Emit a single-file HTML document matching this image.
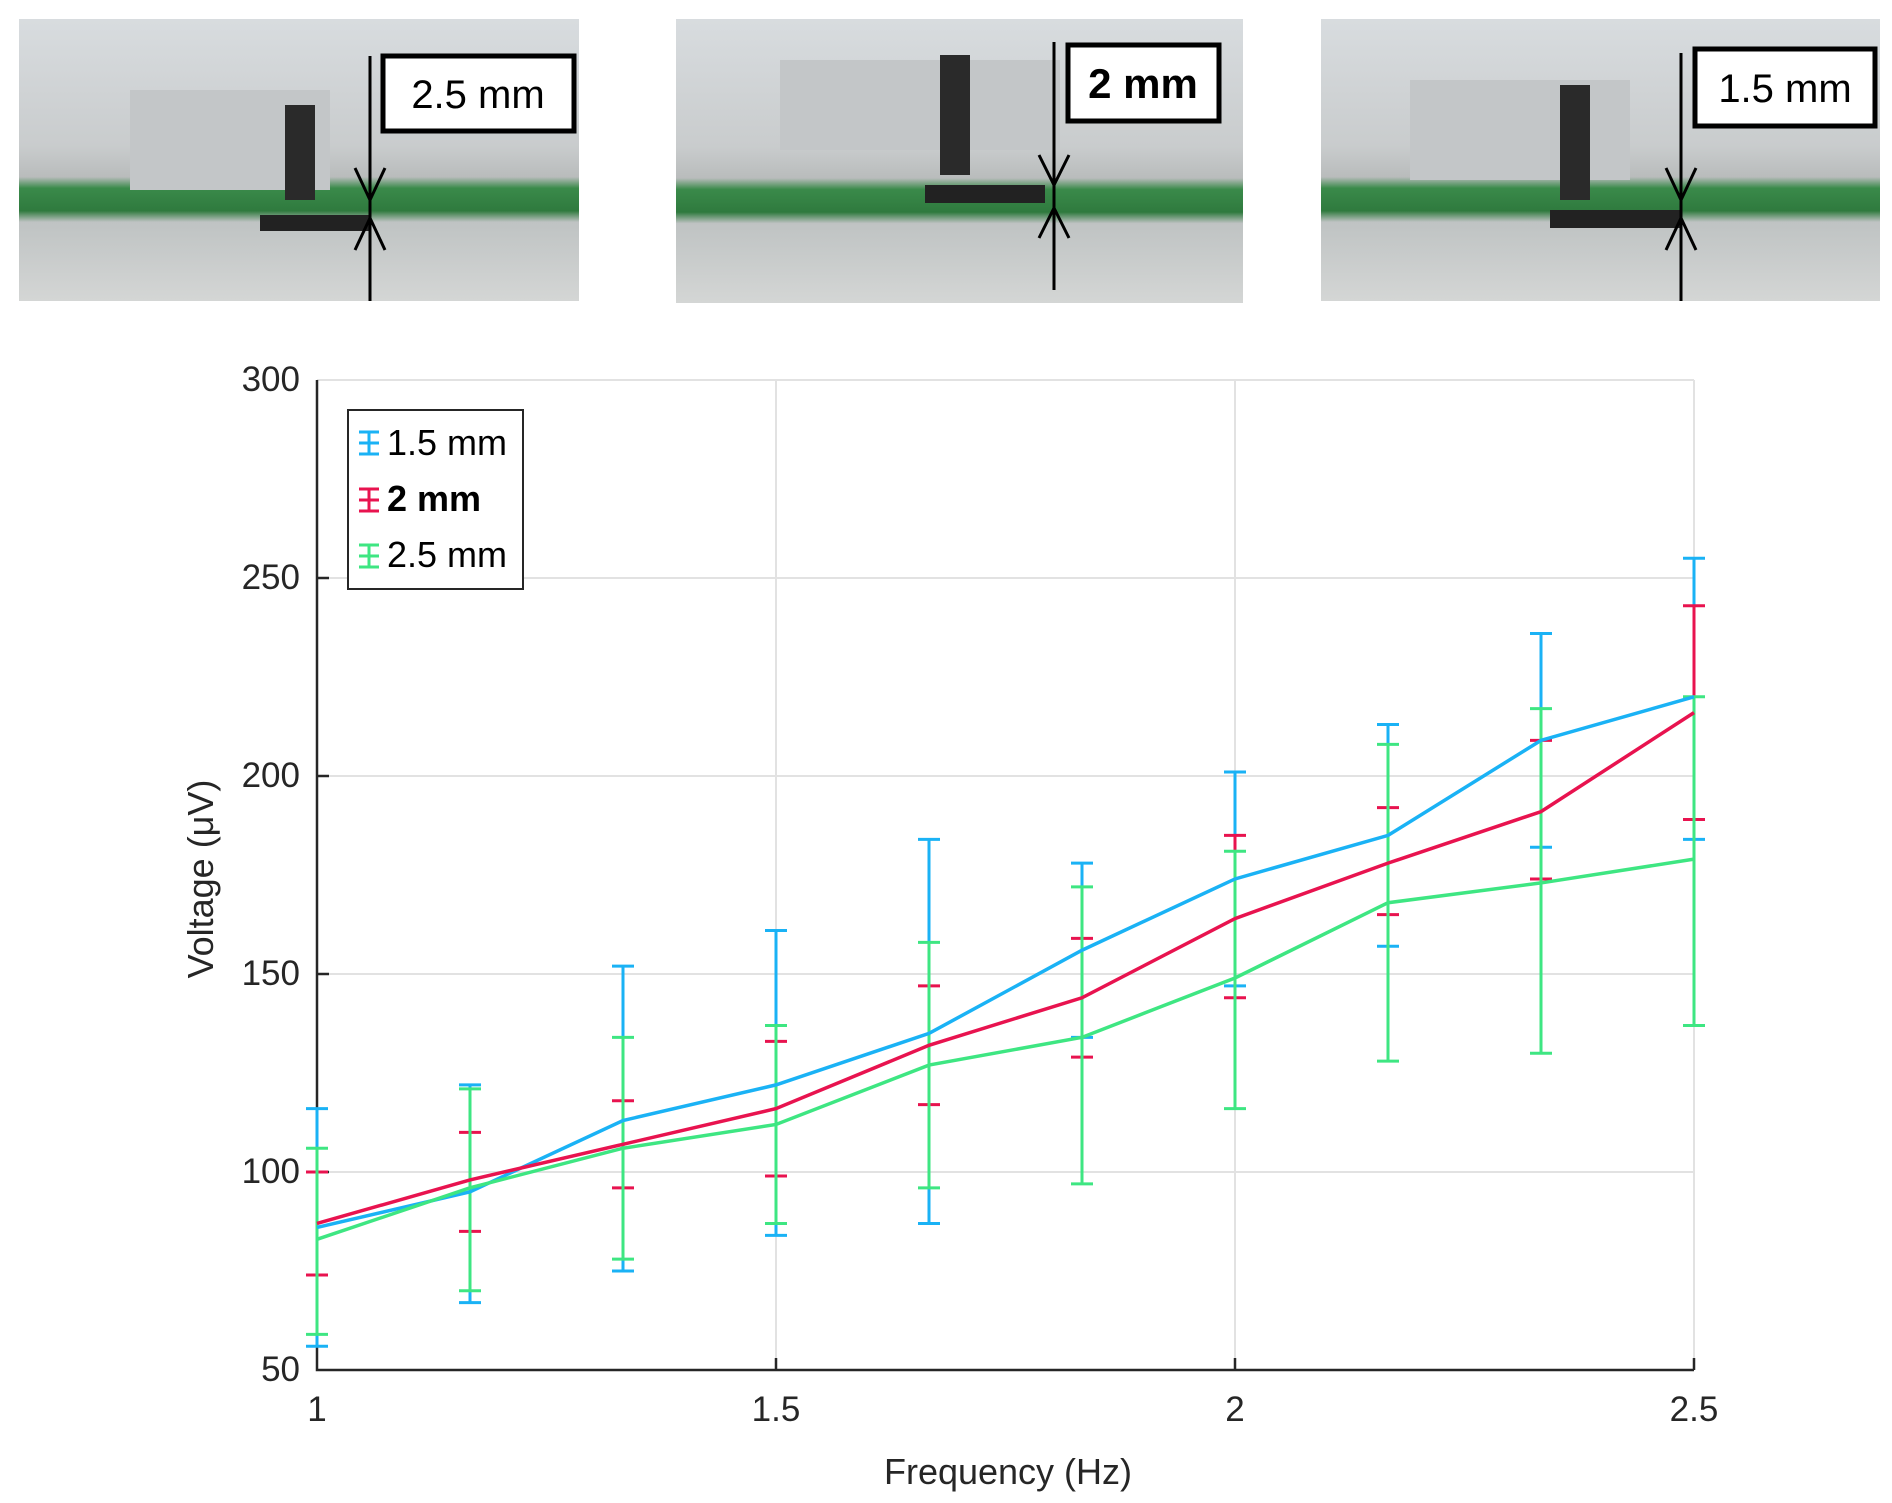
<!DOCTYPE html>
<html><head><meta charset="utf-8"><style>
html,body{margin:0;padding:0;background:#fff}
svg{display:block}
text{font-family:"Liberation Sans",sans-serif;fill:#262626}
</style></head><body>
<svg width="1892" height="1503" viewBox="0 0 1892 1503" xmlns="http://www.w3.org/2000/svg">
<defs>
<linearGradient id="ph" x1="0" y1="0" x2="0" y2="1">
<stop offset="0" stop-color="#d8dcdf"/><stop offset="0.45" stop-color="#c9cccd"/>
<stop offset="0.56" stop-color="#b9bcbc"/><stop offset="0.6" stop-color="#3a8a4a"/>
<stop offset="0.68" stop-color="#2f7a3e"/><stop offset="0.72" stop-color="#bfc3c3"/>
<stop offset="1" stop-color="#d4d6d5"/></linearGradient>
</defs>
<g>
<rect x="19" y="19" width="560" height="282" fill="url(#ph)"/>
<rect x="130" y="90" width="200" height="100" fill="#c3c6c8"/>
<rect x="285" y="105" width="30" height="95" fill="#2a2a2a"/>
<rect x="260" y="215" width="110" height="16" fill="#222"/>
<rect x="383" y="56" width="191" height="75" fill="#fff" stroke="#000" stroke-width="5"/>
<text x="478" y="108" font-size="40" text-anchor="middle" style="fill:#000">2.5 mm</text>
<line x1="370" y1="56" x2="370" y2="301" stroke="#000" stroke-width="3"/>
<path d="M355 168 L370 200 L385 168 M355 250 L370 218 L385 250" stroke="#000" stroke-width="3" fill="none"/>
</g>
<g>
<rect x="676" y="19" width="567" height="284" fill="url(#ph)"/>
<rect x="780" y="60" width="280" height="90" fill="#c3c6c8"/>
<rect x="940" y="55" width="30" height="120" fill="#2a2a2a"/>
<rect x="925" y="185" width="120" height="18" fill="#222"/>
<rect x="1068" y="45" width="151" height="76" fill="#fff" stroke="#000" stroke-width="5"/>
<text x="1143" y="98" font-size="42" font-weight="bold" text-anchor="middle" style="fill:#000">2 mm</text>
<line x1="1054" y1="42" x2="1054" y2="290" stroke="#000" stroke-width="3"/>
<path d="M1039 155 L1054 185 L1069 155 M1039 238 L1054 208 L1069 238" stroke="#000" stroke-width="3" fill="none"/>
</g>
<g>
<rect x="1321" y="19" width="559" height="282" fill="url(#ph)"/>
<rect x="1410" y="80" width="220" height="100" fill="#c3c6c8"/>
<rect x="1560" y="85" width="30" height="115" fill="#2a2a2a"/>
<rect x="1550" y="210" width="130" height="18" fill="#222"/>
<rect x="1695" y="49" width="180" height="77" fill="#fff" stroke="#000" stroke-width="5"/>
<text x="1785" y="102" font-size="40" text-anchor="middle" style="fill:#000">1.5 mm</text>
<line x1="1681" y1="53" x2="1681" y2="301" stroke="#000" stroke-width="3"/>
<path d="M1666 168 L1681 200 L1696 168 M1666 250 L1681 218 L1696 250" stroke="#000" stroke-width="3" fill="none"/>
</g>
<g stroke="#e2e2e2" stroke-width="2">
<line x1="317" y1="578" x2="1694" y2="578"/>
<line x1="317" y1="776" x2="1694" y2="776"/>
<line x1="317" y1="974" x2="1694" y2="974"/>
<line x1="317" y1="1172" x2="1694" y2="1172"/>
<line x1="317" y1="380" x2="1694" y2="380"/>
<line x1="776" y1="380" x2="776" y2="1370"/>
<line x1="1235" y1="380" x2="1235" y2="1370"/>
<line x1="1694" y1="380" x2="1694" y2="1370"/>
</g>
<g stroke="#262626" stroke-width="2.5" fill="none">
<path d="M317 380 V1370 H1694"/>
<path d="M776 1370 v-12 M1235 1370 v-12 M1694 1370 v-12 M317 578 h12 M317 776 h12 M317 974 h12 M317 1172 h12"/>
</g>
<g font-size="35" text-anchor="end">
<text x="300" y="391">300</text><text x="300" y="589">250</text><text x="300" y="787">200</text>
<text x="300" y="985">150</text><text x="300" y="1183">100</text><text x="300" y="1381">50</text>
</g>
<g font-size="35" text-anchor="middle">
<text x="317" y="1421">1</text><text x="776" y="1421">1.5</text><text x="1235" y="1421">2</text><text x="1694" y="1421">2.5</text>
</g>
<text x="1008" y="1484" font-size="36" text-anchor="middle">Frequency (Hz)</text>
<text transform="translate(213,879) rotate(-90)" font-size="36" text-anchor="middle">Voltage (μV)</text>
<g id="series"></g>
<rect x="348" y="410" width="175" height="179" fill="#fff" stroke="#262626" stroke-width="2"/>
<g stroke-width="3" fill="none">
<path d="M359 432h20M359 454h20M369 432v22M359 443h20" stroke="#1ab2f5"/>
<path d="M359 489h20M359 511h20M369 489v22M359 500h20" stroke="#e8134f"/>
<path d="M359 545h20M359 567h20M369 545v22M359 556h20" stroke="#3ee682"/>
</g>
<text x="387" y="455" font-size="36" style="fill:#000">1.5 mm</text>
<text x="387" y="511" font-size="36" font-weight="bold" style="fill:#000">2 mm</text>
<text x="387" y="567" font-size="36" style="fill:#000">2.5 mm</text>
</svg>
<script>
var X0=317,X1=1694,Y0=1370,Y1=380;
function px(f){return X0+(f-1)/1.5*(X1-X0)}
function py(v){return Y0-(v-50)/250*(Y0-Y1)}
var fs=[1,7/6,4/3,1.5,5/3,11/6,2,13/6,7/3,2.5];
var S=[
{c:"#3ee682",m:[83,96,106,112,127,134,149,168,173,179],u:[106,121,134,137,158,172,181,208,217,220],l:[59,70,78,87,96,97,116,128,130,137]},
{c:"#e8134f",m:[87,98,107,116,132,144,164,178,191,216],u:[100,110,118,133,147,159,185,192,209,243],l:[74,85,96,99,117,129,144,165,174,189]},
{c:"#1ab2f5",m:[86,95,113,122,135,156,174,185,209,220],u:[116,122,152,161,184,178,201,213,236,255],l:[56,67,75,84,87,134,147,157,182,184]}
];
var g=document.getElementById('series'),h='';
var order=[2,1,0];
order.forEach(function(i){var s=S[i];
 for(var k=0;k<10;k++){var x=px(fs[k]);
  h+='<path d="M'+x+' '+py(s.u[k])+'V'+py(s.l[k])+'M'+(x-11)+' '+py(s.u[k])+'h22M'+(x-11)+' '+py(s.l[k])+'h22" stroke="'+s.c+'" stroke-width="3" fill="none"/>';}
});
order.forEach(function(i){var s=S[i];
 var d='M'+s.m.map(function(v,k){return px(fs[k])+' '+py(v)}).join(' L');
 h+='<path d="'+d+'" stroke="'+s.c+'" stroke-width="3.5" fill="none"/>';
});
g.innerHTML=h;
</script>
</body></html>
